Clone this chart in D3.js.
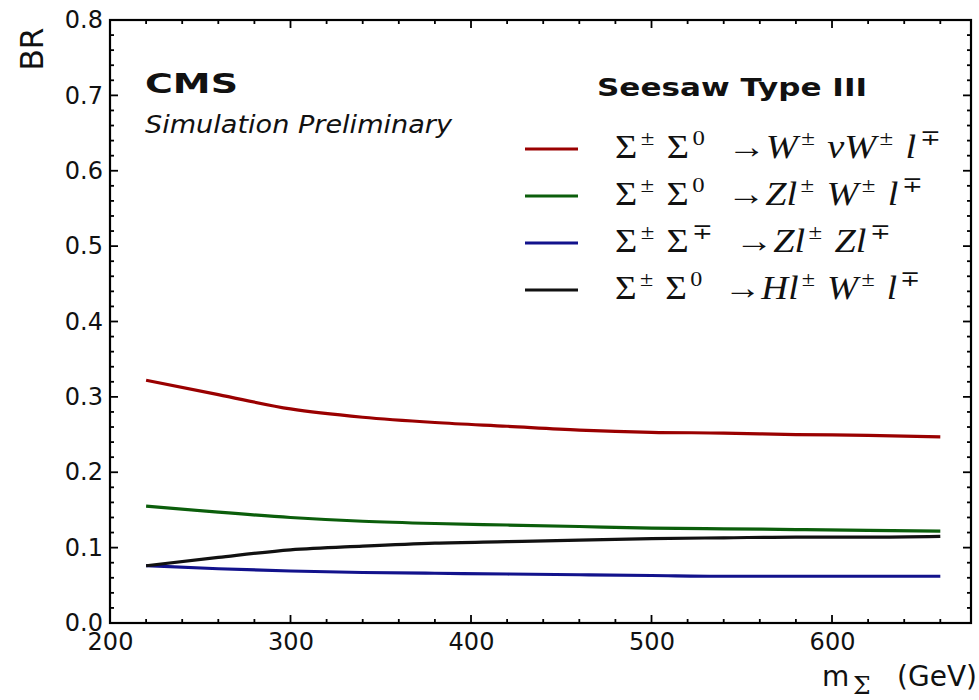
<!DOCTYPE html>
<html>
<head>
<meta charset="utf-8">
<script src="https://cdn.jsdelivr.net/npm/d3@7"></script>
<style>
  html, body { margin: 0; padding: 0; background: #fff; }
  svg { display: block; }
  .tick text { font-family: "DejaVu Sans", sans-serif; }
</style>
</head>
<body>
<svg id="chart" width="979" height="700"></svg>
<script>
// Heavy-lepton mass points (GeV)
const masses = [220, 260, 300, 340, 380, 420, 460, 500, 540, 580, 620, 660];

// Branching ratios per decay channel
const brWnuWl = [0.322, 0.303, 0.284, 0.273, 0.266, 0.261, 0.256, 0.253, 0.252, 0.250, 0.249, 0.247];
const brZlWl  = [0.155, 0.147, 0.140, 0.135, 0.132, 0.130, 0.128, 0.126, 0.125, 0.124, 0.123, 0.122];
const brZlZl  = [0.076, 0.072, 0.069, 0.067, 0.066, 0.065, 0.064, 0.063, 0.062, 0.062, 0.062, 0.062];
const brHlWl  = [0.076, 0.087, 0.097, 0.102, 0.106, 0.108, 0.110, 0.112, 0.113, 0.114, 0.114, 0.115];

const xTicks = [200, 300, 400, 500, 600];
const yTicks = [0.0, 0.1, 0.2, 0.3, 0.4, 0.5, 0.6, 0.7, 0.8];

// Legend entries: [symbol, superscript, italic?]
const series = [
  { values: brWnuWl, color: "#9a0000", width: 325, label: [["Σ","±"],["Σ","0"],["→",""],["W","±","i"],["ν","","i"],["W","±","i"],["l","∓","i"]] },
  { values: brZlWl,  color: "#0b5e0b", width: 307, label: [["Σ","±"],["Σ","0"],["→",""],["Z","","i"],["l","±","i"],["W","±","i"],["l","∓","i"]] },
  { values: brZlZl,  color: "#12128c", width: 275, label: [["Σ","±"],["Σ","∓"],["→",""],["Z","","i"],["l","±","i"],["Z","","i"],["l","∓","i"]] },
  { values: brHlWl,  color: "#111111", width: 305, label: [["Σ","±"],["Σ","0"],["→",""],["H","","i"],["l","±","i"],["W","±","i"],["l","∓","i"]] }
];

const svg = d3.select("#chart");
const plotL = 110, plotR = 971, plotT = 20, plotB = 623;

const x = d3.scaleLinear().domain([200, 677]).range([plotL, plotR]);
const y = d3.scaleLinear().domain([0, 0.8]).range([plotB, plotT]);

// Frame
svg.append("rect")
  .attr("x", plotL).attr("y", plotT)
  .attr("width", plotR - plotL).attr("height", plotB - plotT)
  .attr("fill", "none").attr("stroke", "#000").attr("stroke-width", 2.2);

// Minor/major ticks on all four sides, pointing inward
const xMinor = d3.range(200, 677, 20);
const yMinor = d3.range(0, 0.801, 0.02);
const tickG = svg.append("g").attr("stroke", "#000").attr("stroke-width", 1.8);
xMinor.forEach(v => {
  const major = Math.abs(v % 100) < 1e-6;
  const len = major ? 8 : 4;
  tickG.append("line").attr("x1", x(v)).attr("x2", x(v)).attr("y1", plotB).attr("y2", plotB - len);
  tickG.append("line").attr("x1", x(v)).attr("x2", x(v)).attr("y1", plotT).attr("y2", plotT + len);
});
yMinor.forEach(v => {
  const major = Math.abs(Math.round(v * 50) % 5) === 0;
  const len = major ? 8 : 4;
  tickG.append("line").attr("y1", y(v)).attr("y2", y(v)).attr("x1", plotL).attr("x2", plotL + len);
  tickG.append("line").attr("y1", y(v)).attr("y2", y(v)).attr("x1", plotR).attr("x2", plotR - len);
});

// Axis labels via d3 axes (tick marks drawn above)
const xAxis = svg.append("g")
  .attr("transform", `translate(0,${plotB})`)
  .call(d3.axisBottom(x).tickValues(xTicks).tickFormat(d3.format("d")).tickSize(0).tickPadding(9));
xAxis.select(".domain").remove();
xAxis.selectAll("text").attr("font-size", 24).attr("fill", "#111").attr("dy", "0.75em");

const yAxis = svg.append("g")
  .attr("transform", `translate(${plotL},0)`)
  .call(d3.axisLeft(y).tickValues(yTicks).tickFormat(d3.format(".1f")).tickSize(0).tickPadding(7));
yAxis.select(".domain").remove();
yAxis.selectAll("text").attr("font-size", 24).attr("fill", "#111");

// Axis titles
svg.append("text")
  .attr("transform", "translate(43,49) rotate(-90)")
  .attr("text-anchor", "middle")
  .attr("font-family", "DejaVu Sans, sans-serif")
  .attr("font-size", 32).attr("fill", "#111")
  .attr("textLength", 43).attr("lengthAdjust", "spacingAndGlyphs")
  .text("BR");

const xTitle = svg.append("g")
  .attr("font-family", "DejaVu Sans, sans-serif")
  .attr("fill", "#111");
xTitle.append("text").attr("x", 822).attr("y", 686).attr("font-size", 28).text("m");
xTitle.append("text").attr("x", 853).attr("y", 694)
  .attr("font-family", "DejaVu Serif, serif").attr("font-size", 25).text("Σ");
xTitle.append("text").attr("x", 977).attr("y", 686).attr("text-anchor", "end")
  .attr("font-size", 28).text("(GeV)");

// Curves
const line = d3.line()
  .x((d, i) => x(masses[i]))
  .y(d => y(d))
  .curve(d3.curveMonotoneX);

series.forEach(s => {
  svg.append("path")
    .datum(s.values)
    .attr("fill", "none")
    .attr("stroke", s.color)
    .attr("stroke-width", 3.2)
    .attr("stroke-linejoin", "round")
    .attr("d", line);
});

// Experiment labels
svg.append("text")
  .attr("x", 145).attr("y", 93)
  .attr("font-family", "DejaVu Sans, sans-serif")
  .attr("font-weight", "bold").attr("font-size", 26).attr("fill", "#111")
  .attr("textLength", 93).attr("lengthAdjust", "spacingAndGlyphs")
  .text("CMS");
svg.append("text")
  .attr("x", 145).attr("y", 133)
  .attr("font-family", "DejaVu Sans, sans-serif")
  .attr("font-style", "italic").attr("font-size", 24).attr("fill", "#111")
  .attr("textLength", 307).attr("lengthAdjust", "spacingAndGlyphs")
  .text("Simulation Preliminary");

svg.append("text")
  .attr("x", 597).attr("y", 96)
  .attr("font-family", "DejaVu Sans, sans-serif")
  .attr("font-weight", "bold").attr("font-size", 25).attr("fill", "#111")
  .attr("textLength", 270).attr("lengthAdjust", "spacingAndGlyphs")
  .text("Seesaw Type III");

// Legend
const legendY = [149, 196, 243, 290];
series.forEach((s, k) => {
  const ly = legendY[k];
  svg.append("line")
    .attr("x1", 525).attr("x2", 578).attr("y1", ly).attr("y2", ly)
    .attr("stroke", s.color).attr("stroke-width", 3.2);
  const t = svg.append("text")
    .attr("x", 615).attr("y", ly + 9)
    .attr("font-family", "Liberation Serif, serif")
    .attr("font-size", 34).attr("fill", "#111");
  let back = 0, prevSup = false;
  s.label.forEach((part, j) => {
    const [base, sup, it] = part;
    const b = t.append("tspan").attr("dy", back).text(base);
    back = 0;
    if (it) b.attr("font-style", "italic");
    if (base === "→") b.attr("dx", 20);
    else if (prevSup) b.attr("dx", 11);
    if (sup) {
      t.append("tspan").attr("dy", -13).attr("font-size", 22).attr("dx", 3)
        .attr("font-style", "normal").text(sup);
      back = 13;
    }
    prevSup = !!sup;
  });
  t.attr("textLength", s.width).attr("lengthAdjust", "spacingAndGlyphs");
});
</script>
</body>
</html>
